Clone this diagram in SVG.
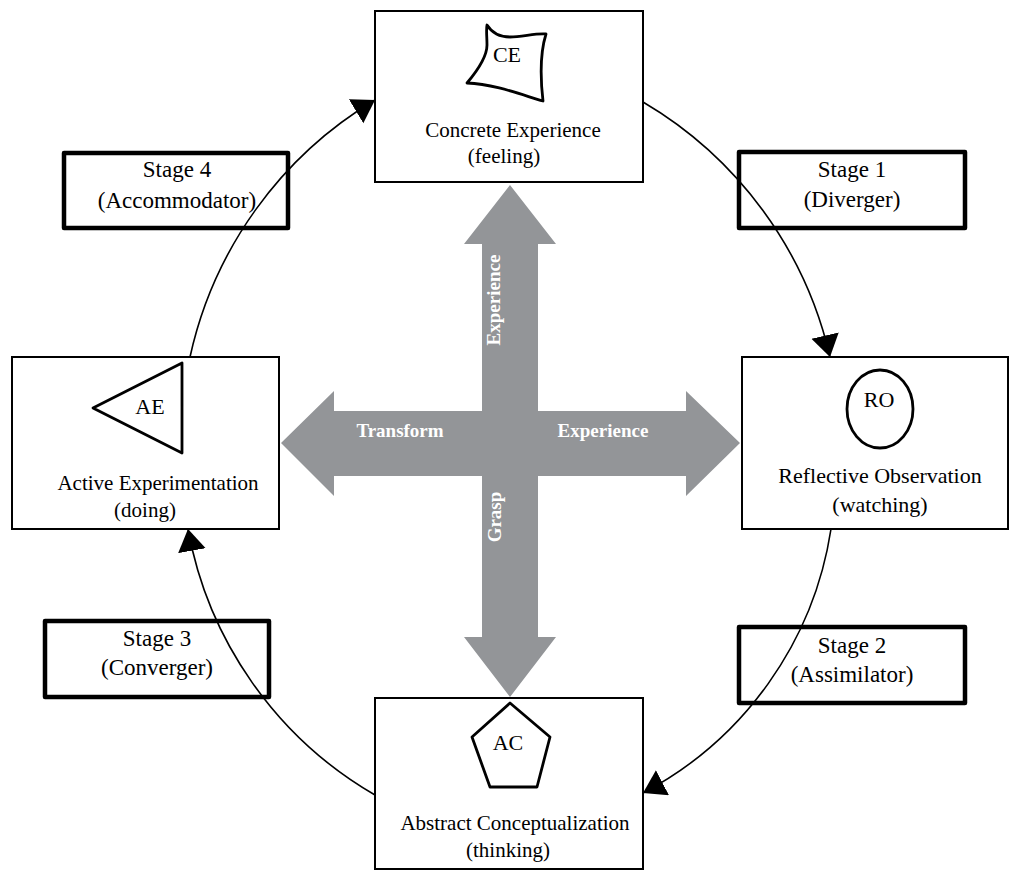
<svg xmlns="http://www.w3.org/2000/svg" width="1010" height="871" viewBox="0 0 1010 871">
<defs>
<style>
.box{fill:#fff;stroke:#000;stroke-width:2}
.stage{fill:#fff;stroke:#000;stroke-width:4.5;stroke-linejoin:round}
.sym{fill:#fff;stroke:#000;stroke-width:2.8;stroke-linejoin:round}
.t{font-family:"Liberation Serif","Times New Roman",serif;fill:#000;text-anchor:middle}
.lbl{font-size:21px}
.abbr{font-size:22px}
.st{font-size:23px}
.ax{font-family:"Liberation Serif","Times New Roman",serif;font-weight:bold;font-size:19px;fill:#fff;text-anchor:middle}
.arc{fill:none;stroke:#000;stroke-width:1.6;marker-end:url(#ah)}
</style>
<marker id="ah" markerUnits="userSpaceOnUse" markerWidth="24" markerHeight="30" refX="22" refY="14" orient="auto">
<path d="M0,0 L22,14 L0,28 Z" fill="#000"/>
</marker>
</defs>
<rect width="1010" height="871" fill="#fff"/>

<g id="cross">
<polygon fill="#939598" points="510,185 556,244 538,244 538,411 686,411 686,391 740,443 686,496 686,476 538,476 538,637 556,637 510,697 464,637 482,637 482,476 334,476 334,496 281,443 334,391 334,411 482,411 482,244 464,244"/>
<text class="ax" x="400" y="437">Transform</text>
<text class="ax" x="603" y="437">Experience</text>
<text class="ax" transform="translate(500,300) rotate(-90)">Experience</text>
<text class="ax" transform="translate(501,517) rotate(-90)">Grasp</text>
</g>

<g id="ce">
<rect class="box" x="375" y="11" width="268" height="171"/>
<path class="sym" d="M487,25 C492,33 500,37 510,37 C522,37 536,33 546,34 C541,50 540,75 543,101 C525,96 495,84 467,83 C478,70 487,57 487,45 C487,37 486,30 487,25 Z"/>
<text class="t abbr" x="507" y="62">CE</text>
<text class="t lbl" x="513" y="137">Concrete Experience</text>
<text class="t lbl" x="504" y="163">(feeling)</text>
</g>

<g id="ro">
<rect class="box" x="742" y="357" width="266" height="172"/>
<ellipse class="sym" cx="880" cy="409" rx="33" ry="39"/>
<text class="t abbr" x="879" y="407">RO</text>
<text class="t lbl" style="font-size:22px" x="880" y="483">Reflective Observation</text>
<text class="t lbl" style="font-size:22px" x="880" y="512">(watching)</text>
</g>

<g id="ac">
<rect class="box" x="375" y="698" width="268" height="171"/>
<polygon class="sym" points="510,703 550,737 537,787 490,787 472,737"/>
<text class="t abbr" x="508" y="750">AC</text>
<text class="t lbl" x="515" y="830">Abstract Conceptualization</text>
<text class="t lbl" x="508" y="857">(thinking)</text>
</g>

<g id="ae">
<rect class="box" x="12" y="357" width="267" height="172"/>
<polygon class="sym" points="93,408 182,363 182,453"/>
<text class="t abbr" x="150" y="414">AE</text>
<text class="t lbl" x="158" y="490">Active Experimentation</text>
<text class="t lbl" x="145" y="517">(doing)</text>
</g>

<g id="stage1">
<rect class="stage" x="739" y="152" width="226" height="76"/>
<text class="t st" x="852" y="177">Stage 1</text>
<text class="t st" x="852" y="207">(Diverger)</text>
</g>
<g id="stage2">
<rect class="stage" x="739" y="627" width="226" height="76"/>
<text class="t st" x="852" y="653">Stage 2</text>
<text class="t st" x="852" y="682">(Assimilator)</text>
</g>
<g id="stage3">
<rect class="stage" x="45" y="621" width="224" height="76"/>
<text class="t st" x="157" y="646">Stage 3</text>
<text class="t st" x="157" y="675">(Converger)</text>
</g>
<g id="stage4">
<rect class="stage" x="64" y="153" width="224" height="75"/>
<text class="t st" x="177" y="177">Stage 4</text>
<text class="t st" x="177" y="208">(Accommodator)</text>
</g>

<g id="connectors">
<path class="arc" d="M643,102 A400,400 0 0 1 830,357"/>
<path class="arc" d="M831,529 A360,360 0 0 1 643,793"/>
<path class="arc" d="M375,795 A387,387 0 0 1 188,529"/>
<path class="arc" d="M190,357 A399,399 0 0 1 375,100"/>
</g>
</svg>
